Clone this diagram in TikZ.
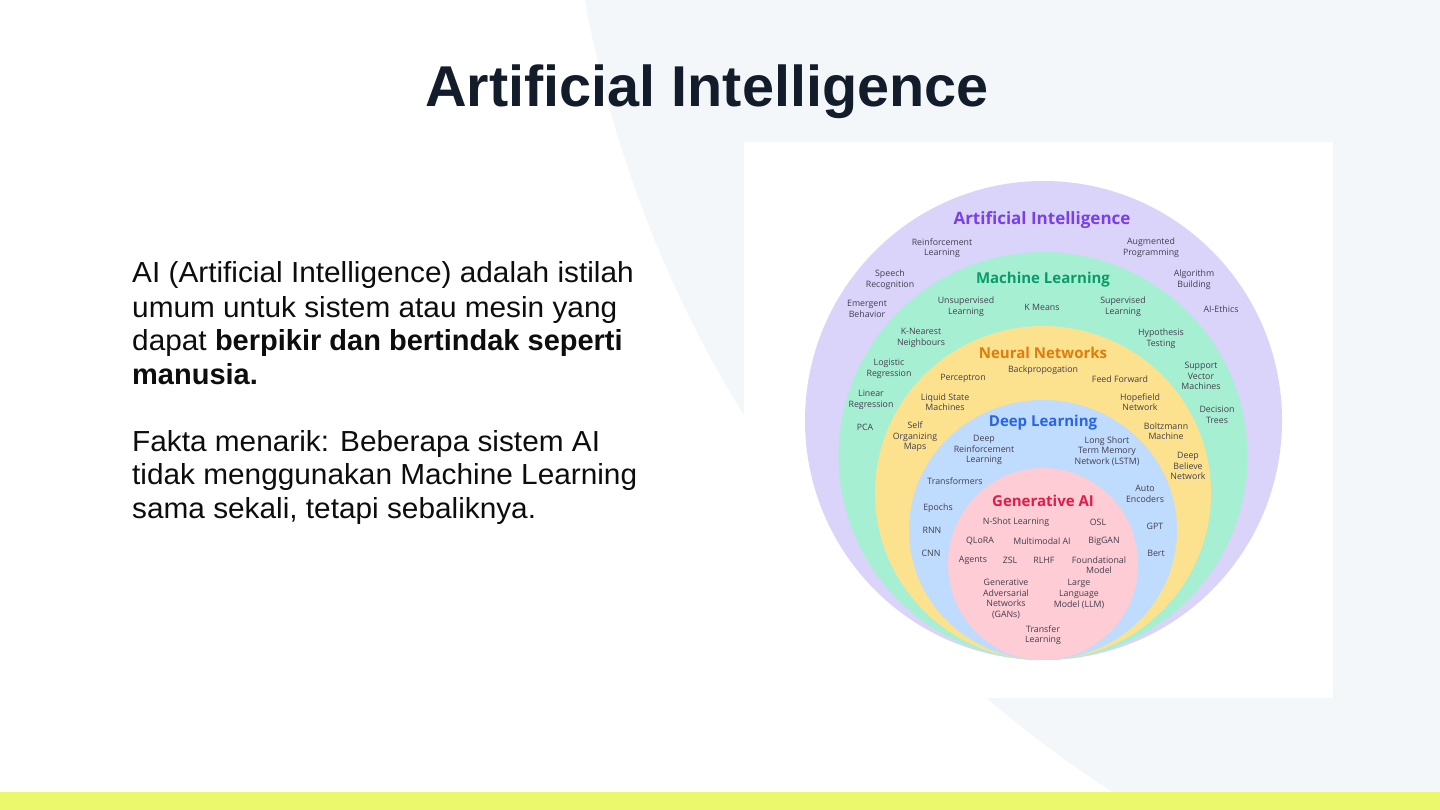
\documentclass[tikz,border=0pt]{standalone}
\usepackage{fontspec}
\setmainfont{Liberation Sans}
\newfontfamily\bodyfont{Liberation Sans}[UprightFeatures={FakeStretch=1.027}]
\newfontfamily\osans{Open Sans}
\definecolor{bgshape}{HTML}{F4F7FA}
\definecolor{band}{HTML}{ECF86B}
\definecolor{titlec}{HTML}{131C2B}
\definecolor{bodyc}{HTML}{0D0D0D}
\definecolor{labc}{HTML}{433E4E}
\definecolor{aic}{HTML}{DAD4FB}
\definecolor{mlc}{HTML}{A7EFD3}
\definecolor{nnc}{HTML}{FCE18E}
\definecolor{dlc}{HTML}{BFDBFD}
\definecolor{gac}{HTML}{FDCCD4}
\definecolor{aitc}{HTML}{7A3FE6}
\definecolor{mltc}{HTML}{0A9B6B}
\definecolor{nntc}{HTML}{DE7C0C}
\definecolor{dltc}{HTML}{2864E6}
\definecolor{gatc}{HTML}{E01C48}
\begin{document}
\begin{tikzpicture}[x=1pt,y=-1pt,
  lab/.style={font=\osans\fontsize{8.8}{10.6}\selectfont, text=labc, align=center, inner sep=0pt, yshift=-1pt},
  ringtitle/.style={font=\osans\bfseries\fontsize{15}{18}\selectfont, inner sep=0pt, yshift=-2pt},
  bodyline/.style={font=\bodyfont\fontsize{29}{34}\selectfont, text=bodyc, anchor=base west, inner sep=0pt}]
\useasboundingbox (0,0) rectangle (1440,810);
\begin{scope}
\clip (0,0) rectangle (1440,810);
\fill[white] (0,0) rectangle (1440,810);
\fill[bgshape] (1763,-213) circle [radius=1197];
\end{scope}
\fill[white] (744,142) rectangle (1333,698);
\fill[band] (0,792) rectangle (1440,810);
% title
\node[font=\bfseries\fontsize{57.6}{60}\selectfont, text=titlec, anchor=base, inner sep=0pt] (title) at (707,107) {Artificial Intelligence};
% paragraph
\node[bodyline] (p1) at (132,283) {AI (Artificial Intelligence) adalah istilah};
\node[bodyline] (p2) at (132,317) {umum untuk sistem atau mesin yang};
\node[bodyline] (p3) at (132,350) {dapat \textbf{berpikir dan bertindak seperti}};
\node[bodyline] (p4) at (132,384) {\textbf{manusia.}};
\node[bodyline] (p5) at (132,451) {Fakta menarik: Beberapa sistem AI};
\node[bodyline] (p6) at (132,484) {tidak menggunakan Machine Learning};
\node[bodyline] (p7) at (132,518) {sama sekali, tetapi sebaliknya.};
% nested ellipses
\fill[aic] (1043.5,420.5) ellipse [x radius=238.5, y radius=239.5];
\fill[mlc] (1043,456) ellipse [x radius=204.5, y radius=204];
\fill[nnc] (1043,493) ellipse [x radius=168, y radius=167];
\fill[dlc] (1043,530) ellipse [x radius=134, y radius=130];
\fill[gac] (1043,564) ellipse [x radius=95, y radius=96];
% AI ring
\node[ringtitle, text=aitc, font=\osans\bfseries\fontsize{17}{20}\selectfont, yshift=-1pt] (tai) at (1042,217) {Artificial Intelligence};
\node[lab] (a1) at (942,247) {Reinforcement\\Learning};
\node[lab] (a2) at (1151,247) {Augmented\\Programming};
\node[lab] (a3) at (890,279) {Speech\\Recognition};
\node[lab] (a4) at (1194,279) {Algorithm\\Building};
\node[lab] (a5) at (867,308) {Emergent\\Behavior};
\node[lab] (a6) at (1221,308) {AI-Ethics};
% ML ring
\node[ringtitle, text=mltc] (tml) at (1043,278) {Machine Learning};
\node[lab] (m1) at (966,306) {Unsupervised\\Learning};
\node[lab] (m2) at (1042,306) {K Means};
\node[lab] (m3) at (1123,306) {Supervised\\Learning};
\node[lab] (m4) at (921,337) {K-Nearest\\Neighbours};
\node[lab] (m5) at (1161,338) {Hypothesis\\Testing};
\node[lab] (m6) at (889,368) {Logistic\\Regression};
\node[lab] (m7) at (1201,375) {Support\\Vector\\Machines};
\node[lab] (m8) at (871,399) {Linear\\Regression};
\node[lab] (m9) at (1217,414) {Decision\\Trees};
\node[lab] (m10) at (865,426) {PCA};
% NN ring
\node[ringtitle, text=nntc] (tnn) at (1043,351) {Neural Networks};
\node[lab] (n1) at (1043,369) {Backpropogation};
\node[lab] (n2) at (963,377) {Perceptron};
\node[lab] (n3) at (1120,378) {Feed Forward};
\node[lab] (n4) at (945,401) {Liquid State\\Machines};
\node[lab] (n5) at (1140,401) {Hopefield\\Network};
\node[lab] (n6) at (915,436) {Self\\Organizing\\Maps};
\node[lab] (n7) at (1166,430) {Boltzmann\\Machine};
\node[lab] (n8) at (1188,465) {Deep\\Believe\\Network};
% DL ring
\node[ringtitle, text=dltc] (tdl) at (1043,421) {Deep Learning};
\node[lab] (d1) at (984,449) {Deep\\Reinforcement\\Learning};
\node[lab] (d2) at (1107,450) {Long Short\\Term Memory\\Network (LSTM)};
\node[lab] (d3) at (955,480) {Transformers};
\node[lab] (d4) at (1145,493) {Auto\\Encoders};
\node[lab] (d5) at (938,507) {Epochs};
\node[lab] (d6) at (932,529) {RNN};
\node[lab] (d7) at (1155,525) {GPT};
\node[lab] (d8) at (931,552) {CNN};
\node[lab] (d9) at (1156,552) {Bert};
% GenAI
\node[ringtitle, text=gatc] (tga) at (1043,499) {Generative AI};
\node[lab] (g1) at (1016,521) {N-Shot Learning};
\node[lab] (g2) at (1098,521) {OSL};
\node[lab] (g3) at (980,540) {QLoRA};
\node[lab] (g4) at (1042,540) {Multimodal AI};
\node[lab] (g5) at (1104,540) {BigGAN};
\node[lab] (g6) at (973,559) {Agents};
\node[lab] (g7) at (1010,559) {ZSL};
\node[lab] (g8) at (1044,559) {RLHF};
\node[lab] (g9) at (1099,564) {Foundational\\Model};
\node[lab] (g10) at (1006,598) {Generative\\Adversarial\\Networks\\(GANs)};
\node[lab] (g11) at (1079,593) {Large\\Language\\Model (LLM)};
\node[lab] (g12) at (1043,634) {Transfer\\Learning};
\end{tikzpicture}
\end{document}
